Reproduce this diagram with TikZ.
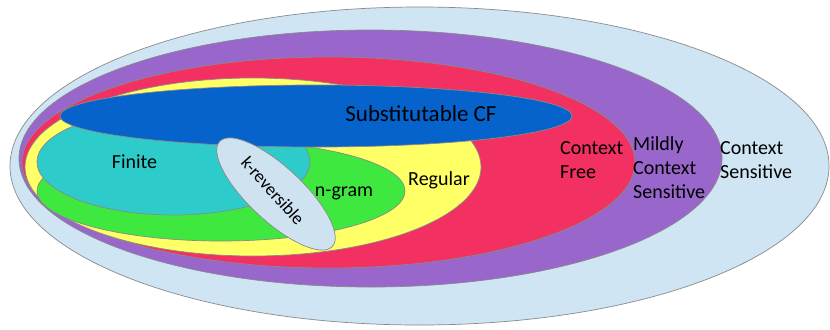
\documentclass[tikz,border=0pt]{standalone}
\usepackage{fontspec}
\setmainfont{Carlito}
\definecolor{csc}{HTML}{CFE5F3}
\definecolor{mcsc}{HTML}{9966CC}
\definecolor{cfc}{HTML}{F23062}
\definecolor{regc}{HTML}{FFFF66}
\definecolor{ngc}{HTML}{3FE83F}
\definecolor{finc}{HTML}{2ECBCB}
\definecolor{subc}{HTML}{0563CB}
\definecolor{krc}{HTML}{CFE2F0}
\definecolor{edgec}{HTML}{8A8A8A}
\begin{document}
\begin{tikzpicture}[x=1bp,y=-1bp,
  region/.style={draw=edgec,line width=0.7bp},
  lbl/.style={inner sep=0pt,font=\fontsize{20bp}{24bp}\selectfont,text=black},
  lbll/.style={lbl,align=left,anchor=west}]
\useasboundingbox (0,0) rectangle (830,329);
\fill[white] (0,0) rectangle (830,329);
\filldraw[region,fill=csc] (419.5,166) ellipse [x radius=409.5bp,y radius=159bp];
\filldraw[region,fill=mcsc] (370.5,158.5) ellipse [x radius=351.5bp,y radius=128.5bp];
\filldraw[region,fill=cfc] (328.5,162.5) ellipse [x radius=306.5bp,y radius=105.5bp];
\filldraw[region,fill=regc] (253,167) ellipse [x radius=228bp,y radius=89bp];
\filldraw[region,fill=ngc] (221,191) ellipse [x radius=184bp,y radius=50bp];
\filldraw[region,fill=finc] (173.5,162) ellipse [x radius=136.5bp,y radius=53bp];
\filldraw[region,fill=subc] (316,116) ellipse [x radius=256bp,y radius=31bp];
\filldraw[region,fill=krc,rotate around={-43:(276,194)}] (276,194) ellipse [x radius=77bp,y radius=27bp];
\node[lbl,font=\fontsize{23bp}{27bp}\selectfont] (sub) at (421,114) {Substitutable CF};
\node[lbl] (fin) at (134.5,162) {Finite};
\node[lbl] (ngr) at (344,193) {n-gram};
\node[lbl] (reg) at (439,180) {Regular};
\node[lbl,font=\fontsize{18bp}{22bp}\selectfont,rotate=-48] (krev) at (273,191) {k-reversible};
\node[lbll] (cf) at (560,160) {Context\\Free};
\node[lbll] (mcs) at (633,168) {Mildly\\Context\\Sensitive};
\node[lbll] (cs) at (720,160) {Context\\Sensitive};
\end{tikzpicture}
\end{document}
